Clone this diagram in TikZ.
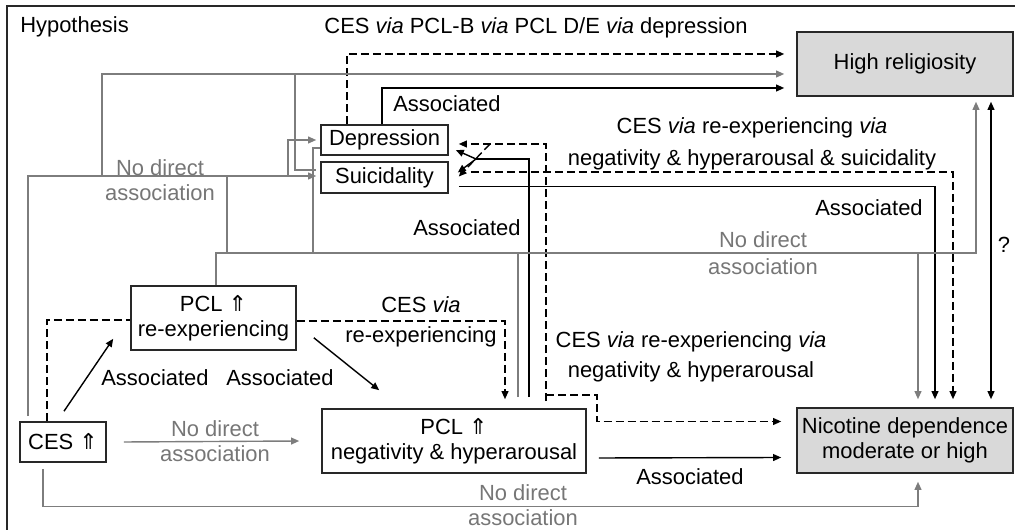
\documentclass[tikz,border=0pt]{standalone}
\usepackage{fontspec}
\setmainfont{Liberation Sans}
\newfontfamily\symfont{DejaVu Sans}
\newcommand{\uparr}{{\symfont ⇑}}
\usetikzlibrary{arrows.meta, positioning, calc}
\definecolor{linegray}{RGB}{125,125,125}
\definecolor{textgray}{RGB}{118,118,118}
\definecolor{boxgray}{RGB}{217,217,217}
\definecolor{framegray}{RGB}{40,40,40}

\begin{document}
\begin{tikzpicture}[x=0.025cm, y=-0.025cm,
  font=\fontsize{15.6}{18}\selectfont,
  >={Triangle[length=0.2cm, width=0.17cm]},
  var/.style={draw=framegray, line width=1.1pt, inner sep=0pt, align=center},
  outcome/.style={var, fill=boxgray, minimum width=5.4cm},
  blackline/.style={line width=1pt},
  grayline/.style={line width=1pt, linegray},
  dashline/.style={line width=1pt, dash pattern=on 0.2cm off 0.1cm},
  grey/.style={text=textgray, align=center},
]
\useasboundingbox (0,0) rectangle (1015,530);
\draw[framegray, line width=1pt] (7,530) -- (7,6) -- (1015,6);

% Variables
\node[var, minimum width=2.15cm, minimum height=1cm] (ces) at (63,442) {CES \uparr};
\node[var, minimum width=4.125cm, minimum height=1.6cm] (pclr) at (213.5,318) {PCL \uparr\\re-experiencing};
\node[var, minimum width=6.6cm, minimum height=1.6cm] (pcln) at (454,441) {PCL \uparr\\negativity \& hyperarousal};
\node[var, minimum width=3.175cm, minimum height=0.75cm] (dep) at (384.5,140) {Depression};
\node[var, minimum width=3.175cm, minimum height=0.775cm] (sui) at (384.5,177.5) {Suicidality};
\node[outcome, minimum height=1.6cm] (rel) at (905,64) {High religiosity};
\node[outcome, minimum height=1.625cm] (nic) at (905,440.5) {Nicotine dependence\\moderate or high};

\node[inner sep=0pt, anchor=west] (hyp) at (20,27) {Hypothesis};

% Direct paths
\draw[blackline, ->] ([shift={(1,-10)}]ces.north) -- ([shift={(-17,-12)}]pclr.south west);
\node (a1) at (155,378) {Associated};
\draw[blackline, ->] ([shift={(17,-13)}]pclr.south east) -- ([shift={(58,-18)}]pcln.north west);
\node (a2) at (280,378) {Associated};
\draw[grayline, ->] ([shift={(17,0)}]ces.east) -- ([shift={(-22,0)}]pcln.west);
\node[grey] (n1) at (215,441) {No direct\\association};
\draw[grayline, ->] ([shift={(-20,6)}]ces.south) -- ++(0,38) -| ([shift={(13,8)}]nic.south);
\node[grey] (n2) at (523,505) {No direct\\association};
\draw[blackline, ->] ([shift={(12,17)}]pcln.east) -- ([shift={(-15,17)}]nic.west);
\node (a3) at (690,477) {Associated};

% Mediated via re-experiencing
\draw[dashline] ([shift={(-16,0)}]ces.north) |- ([shift={(0,2)}]pclr.west);
\draw[dashline, ->] ([shift={(0,3)}]pclr.east) -| ([shift={(51,-9)}]pcln.north);
\node[align=center] (m1) at (421,322) {CES \textit{via}\\[3pt]re-experiencing};

% Mediated via negativity & hyperarousal
\coordinate (dk) at (546,395);
\coordinate (dj) at (490,144);
\draw[dashline, ->] ([shift={(92,-7)}]pcln.north) |- ([shift={(10,4)}]dep.east);
\draw[dashline, ->] (dj) -- ([shift={(10,-1)}]sui.east);
\draw[dashline, ->] (dk) -- (597,395) |- ([shift={(-15,-19)}]nic.west);
\node[align=center] (m2) at (691,357) {CES \textit{via} re-experiencing \textit{via}\\[3pt]negativity \& hyperarousal};

% Negativity & hyperarousal to depression and suicidality
\draw[blackline] ([shift={(75,-11)}]pcln.north) |- (476,159) coordinate (sj);
\draw[blackline, ->] (sj) -- ([shift={(7,10)}]dep.east);
\draw[blackline, ->] (sj) -- ([shift={(9,-5)}]sui.east);
\node (a4) at (467,228) {Associated};
\draw[grayline] ([shift={(64,-11)}]pcln.north) -- (518,253);

% Suicidality to nicotine dependence
\draw[blackline, ->] ([shift={(10,9)}]sui.east) -| ([shift={(30,-8)}]nic.north);
\node (a5) at (869,208) {Associated};
\draw[dashline, ->] ([shift={(22,-5.5)}]sui.east) -| ([shift={(48,-8)}]nic.north);
\node[align=center] (m3) at (752,144) {CES \textit{via} re-experiencing \textit{via}\\[5pt]negativity \& hyperarousal \& suicidality};

% Depression to high religiosity
\draw[dashline, ->] ([shift={(-37.5,0)}]dep.north) |- ([shift={(-12,-10)}]rel.west);
\node (mtitle) at (536,28) {CES \textit{via} PCL-B \textit{via} PCL D/E \textit{via} depression};
\draw[blackline, ->] ([shift={(-2.5,0)}]dep.north) |- ([shift={(-12,24)}]rel.west);
\node (a6) at (447,104) {Associated};

% No direct association (grey network)
\draw[grayline, ->] ([shift={(-35,-5)}]ces.north) |- ([shift={(-4,-1.5)}]sui.west);
\draw[grayline, ->] (102,176) |- ([shift={(-12,10)}]rel.west);
\draw[grayline] (227,176) -- (227,253);
\draw[grayline, ->] (288,176) |- ([shift={(-4,0)}]dep.west);
\draw[grayline] (295,74) |- ([shift={(-4,-7.5)}]sui.west);
\draw[grayline] ([shift={(0,8)}]dep.west) -| (313,253);
\node[grey] (n3) at (160,180) {No direct\\association};
\draw[grayline, ->] ([shift={(2.5,0)}]pclr.north) |- (976,253) -- ([shift={(71,5)}]rel.south);
\draw[grayline, ->] (918,253) -- ([shift={(13,-8)}]nic.north);
\node[grey] (n4) at (763,253) {No direct\\[1pt]association};

% Religiosity and nicotine dependence
\draw[blackline, <->] ([shift={(86,5)}]rel.south) -- ([shift={(86,-8)}]nic.north);
\node (q) at (1004,245) {?};
\end{tikzpicture}
\end{document}
